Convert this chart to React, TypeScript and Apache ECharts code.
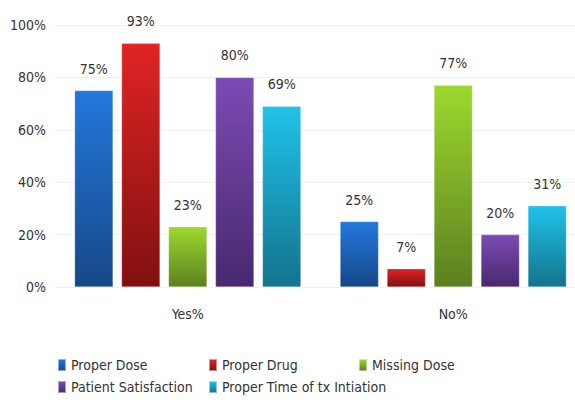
import React, { useEffect, useRef } from "react";
import * as echarts from "echarts";

const categories = ["Yes%", "No%"];
const seriesNames = [
  "Proper Dose",
  "Proper Drug",
  "Missing Dose",
  "Patient Satisfaction",
  "Proper Time of tx Intiation",
];
const properDose = [75, 25];
const properDrug = [93, 7];
const missingDose = [23, 77];
const patientSatisfaction = [80, 20];
const properTime = [69, 31];
const seriesValues = [properDose, properDrug, missingDose, patientSatisfaction, properTime];
const colorTops = ["#2378dc", "#e02424", "#9cd92f", "#7c4bb3", "#20c2ea"];
const colorBottoms = ["#164887", "#811010", "#5c801f", "#48296f", "#13738c"];

const FONT = "'DejaVu Sans Condensed', 'Liberation Sans Narrow', Roboto, sans-serif";

export default function App() {
  const ref = useRef<HTMLDivElement>(null);
  useEffect(() => {
    if (!ref.current) return;
    const chart = echarts.init(ref.current, undefined, { renderer: "svg" });
    const legendBase = {
      orient: "vertical",
      top: 353,
      itemWidth: 8,
      itemHeight: 12,
      itemGap: 8,
      icon: "rect",
      textStyle: { fontFamily: FONT, fontSize: 14, color: "#333" },
    };
    chart.setOption({
      animation: false,
      backgroundColor: "#ffffff",
      grid: { left: 55, right: 0, top: 25, bottom: 118 },
      legend: [
        { ...legendBase, data: [seriesNames[0], seriesNames[3]], left: 52 },
        { ...legendBase, data: [seriesNames[1], seriesNames[4]], left: 203 },
        { ...legendBase, data: [seriesNames[2]], left: 353 },
      ],
      xAxis: {
        type: "category",
        data: categories,
        axisLine: { show: false },
        axisTick: { show: false },
        axisLabel: { fontFamily: FONT, fontSize: 14, color: "#333", margin: 20 },
      },
      yAxis: {
        type: "value",
        min: 0,
        max: 100,
        interval: 20,
        axisLine: { show: false },
        axisTick: { show: false },
        splitLine: { lineStyle: { color: "#f0f0f0", width: 1 } },
        axisLabel: {
          formatter: "{value}%",
          fontFamily: FONT,
          fontSize: 14,
          color: "#333",
          margin: 9,
        },
      },
      series: seriesNames.map((name, i) => ({
        name,
        type: "bar",
        data: seriesValues[i],
        barWidth: 38.5,
        barGap: "22%",
        itemStyle: {
          color: new echarts.graphic.LinearGradient(0, 0, 0, 1, [
            { offset: 0, color: colorTops[i] },
            { offset: 1, color: colorBottoms[i] },
          ]),
          borderColor: "rgba(255,255,255,0.5)",
          borderWidth: 0.5,
        },
        label: {
          show: true,
          position: "top",
          distance: 15,
          formatter: "{c}%",
          fontFamily: FONT,
          fontSize: 14,
          color: "#333",
        },
      })),
    });
    return () => chart.dispose();
  }, []);
  return (
    <div style={{ position: "fixed", left: 0, top: 0, width: 575, height: 405, overflow: "hidden" }}>
      <div ref={ref} style={{ width: 586, height: 405 }} />
    </div>
  );
}
